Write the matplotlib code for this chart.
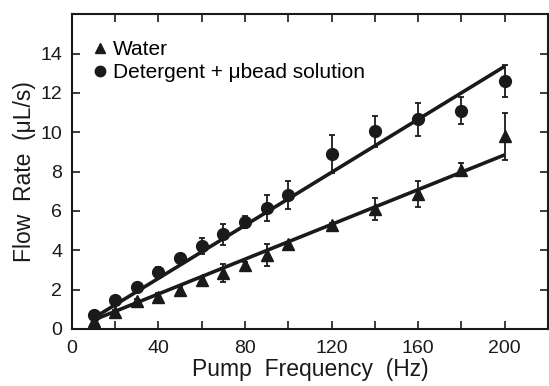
import matplotlib
matplotlib.use("Agg")
import matplotlib.pyplot as plt
import numpy as np

plt.rcParams['font.family'] = ['Liberation Sans', 'DejaVu Sans']

freq = [10, 20, 30, 40, 50, 60, 70, 80, 90, 100, 120, 140, 160, 180, 200]
water = [0.4, 0.85, 1.4, 1.6, 2.0, 2.5, 2.85, 3.25, 3.75, 4.3, 5.3, 6.1, 6.85, 8.1, 9.8]
water_err = [0.1, 0.1, 0.1, 0.2, 0.15, 0.15, 0.45, 0.15, 0.55, 0.1, 0.1, 0.55, 0.65, 0.35, 1.2]
det = [0.7, 1.45, 2.15, 2.9, 3.6, 4.2, 4.8, 5.45, 6.15, 6.8, 8.9, 10.05, 10.65, 11.1, 12.6]
det_err = [0.1, 0.1, 0.1, 0.25, 0.1, 0.4, 0.55, 0.3, 0.65, 0.7, 0.95, 0.8, 0.85, 0.7, 0.8]
fit_x = [10, 200]
water_fit = [0.45, 8.85]
det_fit = [0.55, 13.35]

xticks = [0, 40, 80, 120, 160, 200]
yticks = [0, 2, 4, 6, 8, 10, 12, 14]

fig = plt.figure(figsize=(5.49, 3.86), dpi=100)
ax = fig.add_axes([0.131, 0.148, 0.867, 0.815])

col = '#1a1a1a'
ax.plot(fit_x, det_fit, color=col, lw=2.6, solid_capstyle='butt', zorder=2)
ax.plot(fit_x, water_fit, color=col, lw=2.6, solid_capstyle='butt', zorder=2)
ax.errorbar(freq, water, yerr=water_err, fmt='^', ms=8.5, color=col, ecolor=col,
            elinewidth=1.3, capsize=2.5, capthick=1.3, zorder=3, label='Water')
ax.errorbar(freq, det, yerr=det_err, fmt='o', ms=8.5, color=col, ecolor=col,
            elinewidth=1.3, capsize=2.5, capthick=1.3, zorder=3,
            label='Detergent + \u03bcbead solution')

ax.set_xlim(0, 220)
ax.set_ylim(0, 16)
ax.set_xticks(np.arange(0, 221, 20), minor=False)
ax.set_xticklabels([str(v) if v in xticks else '' for v in range(0, 221, 20)])
ax.set_yticks(yticks)
ax.tick_params(direction='in', top=True, right=True, length=6, width=1.2,
               labelsize=14, colors=col)
ax.tick_params(axis='y', pad=7)
ax.tick_params(axis='x', pad=8)
for s in ax.spines.values():
    s.set_linewidth(1.5)
    s.set_color(col)

ax.set_xlabel('Pump  Frequency  (Hz)', fontsize=16.5, color=col, labelpad=1)
ax.set_ylabel('Flow  Rate  (\u03bcL/s)', fontsize=16.5, color=col, labelpad=3)

l = ['Water', 'Detergent + \u03bcbead solution']
handles = [plt.Line2D([], [], marker='^', ls='', color=col, ms=7.5),
           plt.Line2D([], [], marker='o', ls='', color=col, ms=7.5)]
ax.legend(handles, l, loc='upper left', frameon=False, fontsize=15,
          handletextpad=0.1, handlelength=1.0, borderaxespad=0.3,
          labelspacing=0.2, bbox_to_anchor=(0.007, 0.965))

fig.savefig('out.png', dpi=100)
